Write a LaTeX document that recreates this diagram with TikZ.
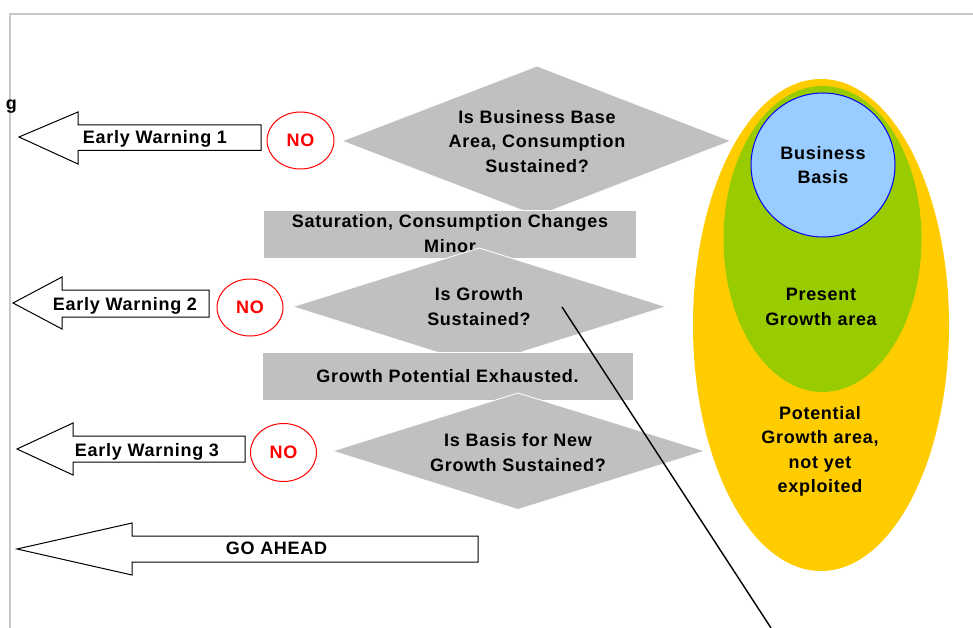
\documentclass[tikz,border=0pt]{standalone}
\usepackage{fontspec}
\usetikzlibrary{shapes.geometric}
\newfontfamily\lab[LetterSpace=4]{Liberation Sans}
\definecolor{boxgray}{HTML}{C0C0C0}
\definecolor{framegray}{HTML}{C8C8C8}
\definecolor{ygold}{HTML}{FFCC00}
\definecolor{lgreen}{HTML}{99CC00}
\definecolor{lblue}{HTML}{99CCFF}
\definecolor{nored}{HTML}{FF0000}
\begin{document}
\begin{tikzpicture}[x=1pt,y=-1pt,
  txt/.style={font=\lab\bfseries\fontsize{18}{24.5}\selectfont, align=center, inner sep=0pt, text=black},
  barrow/.style={draw=black, line width=1pt, fill=white},
  noell/.style={ellipse, draw=nored, line width=1pt, fill=white, inner sep=0pt,
    font=\lab\bfseries\fontsize{18}{22}\selectfont, text=nored},
  dia/.style={fill=boxgray, draw=white, line width=0.8pt},
  rectbox/.style={rectangle, fill=boxgray, draw=white, line width=0.8pt, inner sep=0pt},
  frame/.style={draw=framegray, line width=1.6pt}]
\useasboundingbox (0,0) rectangle (973,628);
\fill[white] (0,0) rectangle (973,628);
% frame
\draw[frame] (10,628) -- (10,14) -- (973,14);
\node[txt, anchor=base east] (gfrag) at (17,110) {g};

% block arrows
\draw[barrow] (19,137) -- (78,112) -- (78,125) -- (261,125) -- (261,150.5) -- (78,150.5) -- (78,164) -- cycle;
\node[txt, anchor=base] (ew1) at (155,143.3) {Early Warning 1};
\draw[barrow] (13,303) -- (62,277) -- (62,290) -- (209,290) -- (209,317) -- (62,317) -- (62,329) -- cycle;
\node[txt, anchor=base] (ew2) at (125,310) {Early Warning 2};
\draw[barrow] (17,449) -- (73,423) -- (73,436) -- (245,436) -- (245,462) -- (73,462) -- (73,475) -- cycle;
\node[txt, anchor=base] (ew3) at (147,456) {Early Warning 3};
\draw[barrow] (17,549) -- (132,523) -- (132,536) -- (478,536) -- (478,562) -- (132,562) -- (132,575) -- cycle;
\node[txt, anchor=base] (go) at (276.5,554.3) {GO AHEAD};

% NO ellipses
\node[noell, minimum width=67pt, minimum height=57pt] (no1) at (300.5,140.5) {NO};
\node[noell, minimum width=66pt, minimum height=57pt] (no2) at (250,307.5) {NO};
\node[noell, minimum width=66pt, minimum height=58pt] (no3) at (283.5,452.5) {NO};

% decision chain
\path[dia] (342,141) -- (537,66) -- (731,141) -- (537,216) -- cycle;
\node[txt] (d1) at (537,141.5) {Is Business Base\\Area, Consumption\\Sustained?};
\node[rectbox, minimum width=373pt, minimum height=48pt] (r1) at (449.5,234) {};
\node[txt] (r1t) at (450,233.5) {Saturation, Consumption Changes\\Minor};
\path[dia] (292.7,306.7) -- (479,248) -- (666,306.7) -- (479,365.4) -- cycle;
\node[txt] (d2) at (479,306.5) {Is Growth\\Sustained?};
\node[rectbox, minimum width=371pt, minimum height=48pt] (r2) at (447.5,376) {};
\node[txt] (r2t) at (447.5,376.3) {Growth Potential Exhausted.};
\path[dia] (332.5,451) -- (518,393) -- (705,451) -- (518,509.5) -- cycle;
\node[txt] (d3) at (518,452.5) {Is Basis for New\\Growth Sustained?};

% nested areas
\fill[ygold] (821,325) ellipse [x radius=128, y radius=246];
\fill[lgreen] (822.5,239) ellipse [x radius=99, y radius=153];
\draw[blue, line width=1pt, fill=lblue] (823,165) circle [radius=72];
\node[txt] (bb) at (823,165) {Business\\Basis};
\node[txt] (pg) at (821,306.7) {Present\\Growth area};
\node[txt] (pot) at (820,451.3) {Potential\\Growth area,\\not yet\\exploited};

% pointer line
\coordinate (lineA) at (562,307);
\coordinate (lineB) at (771,628);
\draw[black, line width=1.4pt] (lineA) -- (lineB);
\end{tikzpicture}
\end{document}
